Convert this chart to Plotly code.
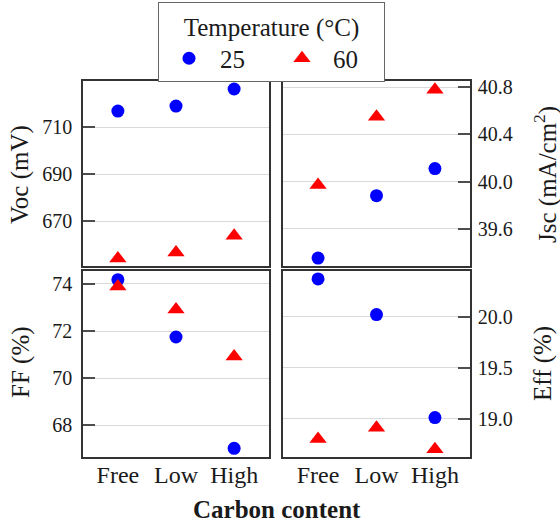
import plotly.graph_objects as go

categories = ["Free", "Low", "High"]
temps = ["25", "60"]

voc_25 = [716.9, 719.0, 726.3]
voc_60 = [654.1, 656.7, 663.8]
jsc_25 = [39.35, 39.88, 40.11]
jsc_60 = [39.97, 40.55, 40.78]
ff_25 = [74.18, 71.75, 67.03]
ff_60 = [73.89, 72.92, 70.92]
eff_25 = [20.37, 20.02, 19.01]
eff_60 = [18.80, 18.91, 18.70]

voc_ticks = [670, 690, 710]
jsc_ticks = [39.6, 40.0, 40.4, 40.8]
ff_ticks = [68, 70, 72, 74]
eff_ticks = [19.0, 19.5, 20.0]

W, H = 560, 524
FONT = "Liberation Serif"
TXT = "#1a1a1a"
BLUE = "#0000FF"
RED = "#FF0000"

# panel pixel boxes (left, right, top, bottom)
boxes = {
    "tl": (83, 269, 81, 266),
    "tr": (283, 470, 81, 266),
    "bl": (83, 269, 271, 457),
    "br": (283, 470, 271, 457),
}

def xdom(b):
    return [b[0] / W, b[1] / W]

def ydom(b):
    return [1 - b[3] / H, 1 - b[2] / H]

fig = go.Figure()

panels = [
    ("tl", "x", "y", voc_25, voc_60, True),
    ("tr", "x2", "y2", jsc_25, jsc_60, False),
    ("bl", "x3", "y3", ff_25, ff_60, False),
    ("br", "x4", "y4", eff_25, eff_60, False),
]

for key, xa, ya, s25, s60, show in panels:
    fig.add_trace(go.Scatter(
        x=categories, y=s25, mode="markers", name=temps[0],
        marker=dict(symbol="circle", size=13, color=BLUE),
        xaxis=xa, yaxis=ya, showlegend=show, legendgroup="25"))
    fig.add_trace(go.Scatter(
        x=categories, y=s60, mode="markers", name=temps[1],
        marker=dict(symbol="triangle-up", size=15, color=RED),
        xaxis=xa, yaxis=ya, showlegend=show, legendgroup="60"))

common_x = dict(
    type="category", range=[-0.6, 2.6], showline=True, mirror=True,
    linecolor="#333333", linewidth=1.5, showgrid=False, ticks="",
    zeroline=False, automargin=False, ticklabelstandoff=-5,
    tickfont=dict(family=FONT, size=24, color=TXT),
)
common_y = dict(
    showline=True, mirror=True, linecolor="#333333", linewidth=1.5,
    showgrid=True, gridcolor="#d9d9d9", gridwidth=1.2,
    ticks="inside", ticklen=12, tickwidth=1.5, tickcolor="#4d4d4d",
    zeroline=False, automargin=False,
    tickfont=dict(family=FONT, size=20, color=TXT),
)

fig.update_layout(
    template="none",
    font=dict(family=FONT, color=TXT),
)

fig.update_layout(
    xaxis=dict(common_x, domain=xdom(boxes["tl"]), anchor="y", showticklabels=False),
    yaxis=dict(common_y, domain=ydom(boxes["tl"]), anchor="x", range=[650.9, 729.7],
               tickvals=voc_ticks, side="left", ticklabelstandoff=5),
    xaxis2=dict(common_x, domain=xdom(boxes["tr"]), anchor="y2", showticklabels=False),
    yaxis2=dict(common_y, domain=ydom(boxes["tr"]), anchor="x2", range=[39.283, 40.854],
                tickvals=jsc_ticks, tickformat=".1f", side="right", ticklabelstandoff=2),
    xaxis3=dict(common_x, domain=xdom(boxes["bl"]), anchor="y3"),
    yaxis3=dict(common_y, domain=ydom(boxes["bl"]), anchor="x3", range=[66.66, 74.55],
                tickvals=ff_ticks, side="left", ticklabelstandoff=5),
    xaxis4=dict(common_x, domain=xdom(boxes["br"]), anchor="y4"),
    yaxis4=dict(common_y, domain=ydom(boxes["br"]), anchor="x4", range=[18.623, 20.448],
                tickvals=eff_ticks, tickformat=".1f", side="right", ticklabelstandoff=2),
)

def ann(text, x, y, angle=0, size=25, bold=False):
    fig.add_annotation(
        text=f"<b>{text}</b>" if bold else text,
        x=x / W, y=1 - y / H, xref="paper", yref="paper",
        showarrow=False, textangle=angle,
        font=dict(family=FONT, size=size, color=TXT),
        xanchor="center", yanchor="middle",
    )

ann("Voc (mV)", 20, 175, -90)
ann("Jsc (mA/cm<sup>2</sup>)", 545, 175, -90)
ann("FF (%)", 21, 362, -90)
ann("Eff (%)", 543, 364, -90)
ann("Carbon content", 277, 509, 0, 25, True)

fig.update_layout(
    width=W, height=H,
    margin=dict(l=0, r=0, t=0, b=0),
    paper_bgcolor="white", plot_bgcolor="white",
    legend=dict(
        orientation="h",
        x=271.5 / W, xanchor="center",
        y=1 - 2 / H, yanchor="top",
        bgcolor="white", bordercolor="#666666", borderwidth=1,
        font=dict(family=FONT, size=25, color=TXT),
        title=dict(text="Temperature (°C)", side="top center",
                   font=dict(family=FONT, size=25, color=TXT)),
        itemwidth=52,
        entrywidth=46,
    ),
)

fig.write_html("out.html", config={"displayModeBar": False},
               post_script="document.body.style.margin='0px';")
